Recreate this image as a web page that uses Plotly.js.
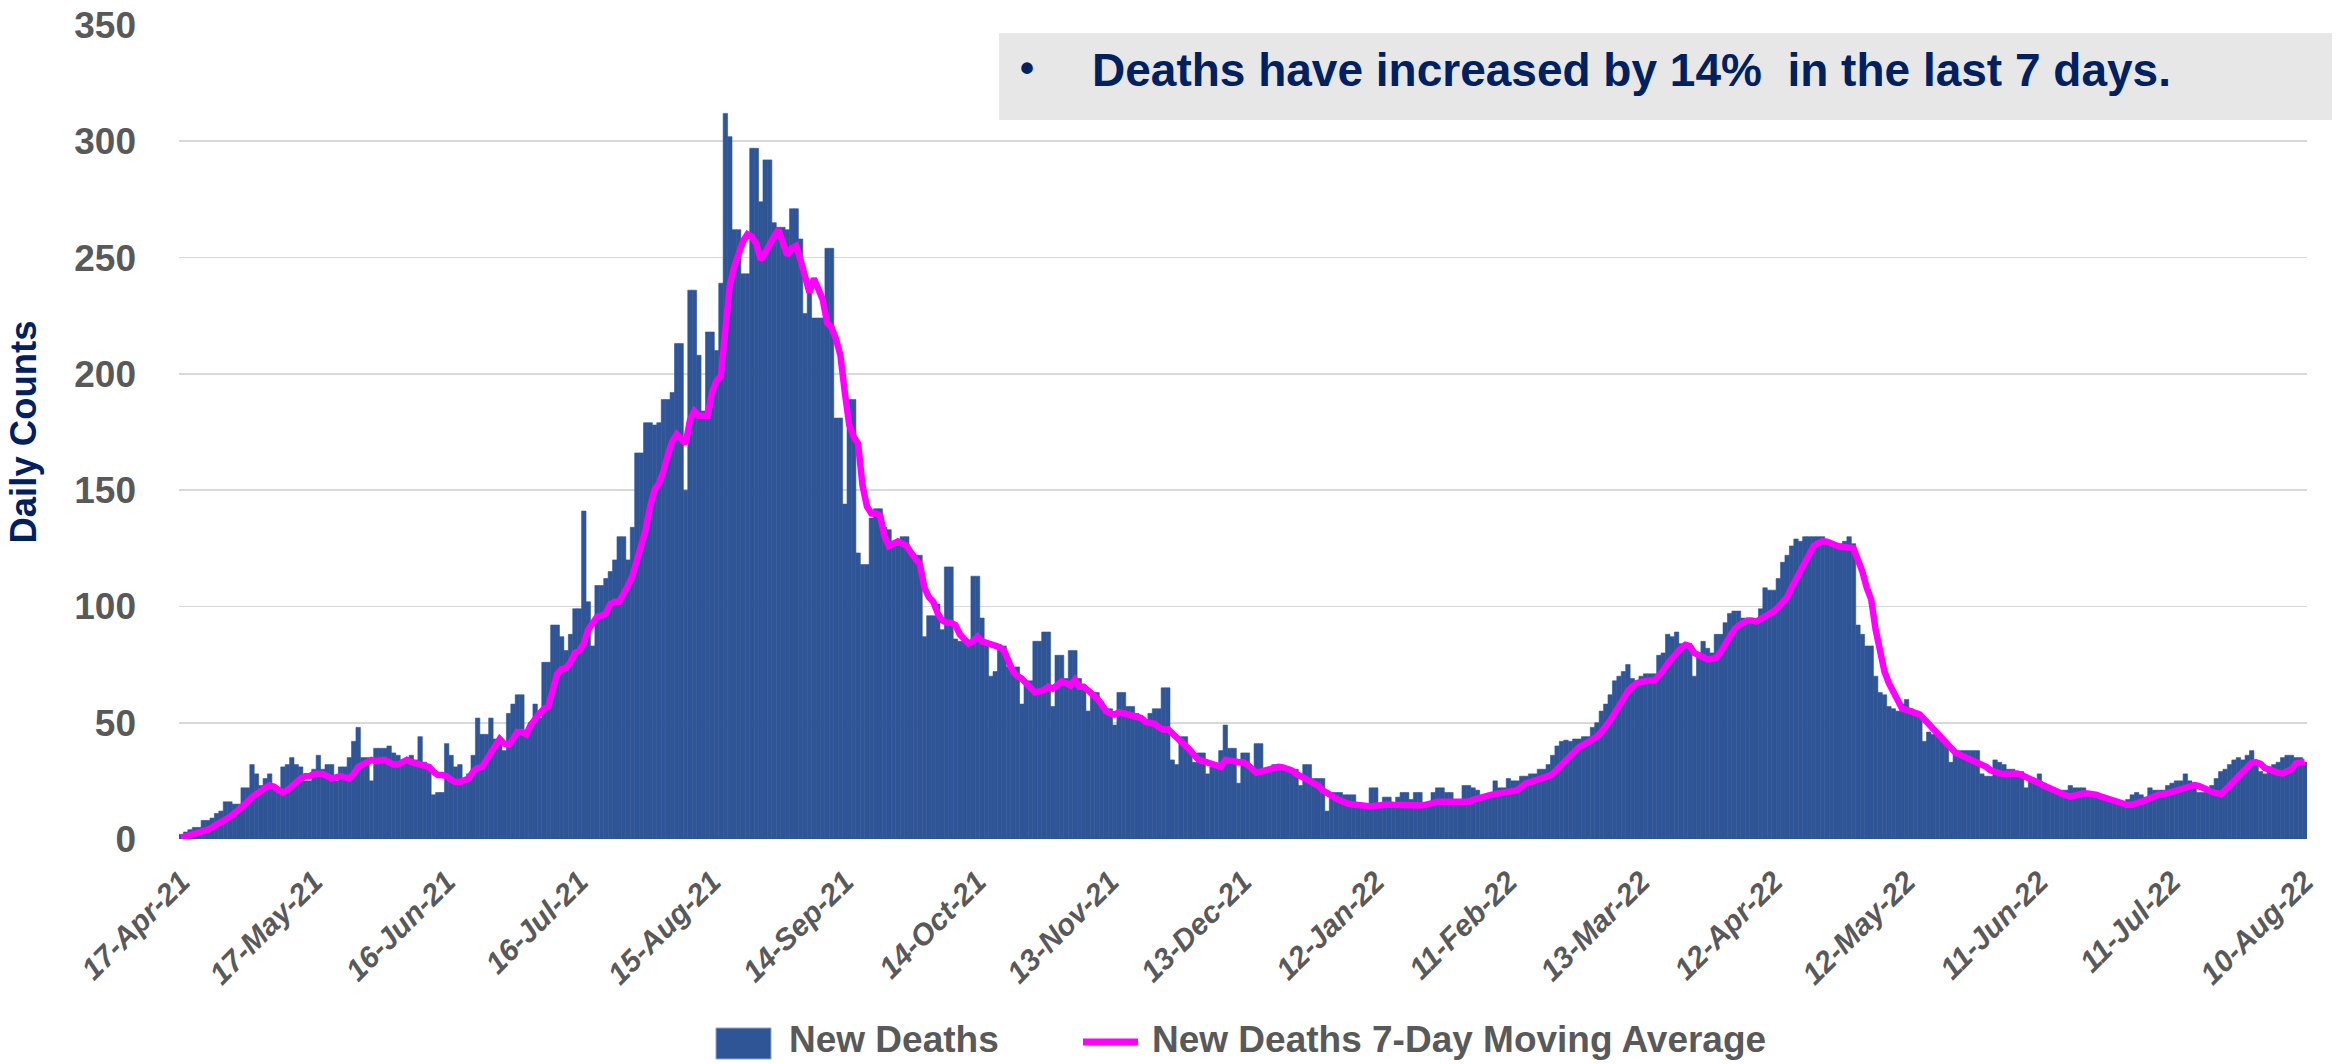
<!DOCTYPE html>
<html><head><meta charset="utf-8">
<script src="https://cdn.plot.ly/plotly-3.0.1.min.js"></script>
<style>html,body{margin:0;padding:0;background:#fff;}#chart{width:2339px;height:1064px;}</style>
</head><body><div id="chart"></div>
<script>
// ---- data (daily, starting 17-Apr-2021) ----
const startYear = 2021, startMonth = 3, startDay = 17; // 17-Apr-2021 (month 0-based)

const newDeaths = [
2,3,4,5,5,8,8,9,11,12,
16,16,15,15,22,22,32,28,23,26,
28,23,22,31,32,35,32,31,25,25,
30,36,30,32,32,25,31,31,35,42,
48,35,35,25,39,39,39,40,37,36,
34,34,36,34,44,33,32,19,20,20,
41,36,31,32,25,28,36,52,45,45,
52,43,43,38,54,58,62,62,46,50,
58,52,76,76,92,92,87,81,88,99,
99,141,102,83,109,109,112,115,120,130,
130,120,134,166,166,179,179,178,179,189,
189,192,213,213,150,236,236,208,184,218,
218,210,239,312,302,262,262,243,243,297,
297,274,292,292,265,263,263,262,271,271,
258,226,239,224,224,224,254,254,181,181,
144,189,189,123,118,118,138,142,142,134,
133,128,128,130,130,122,122,122,87,96,
96,101,90,117,117,86,85,85,83,113,
113,95,84,70,72,83,83,74,74,74,
58,68,68,85,85,89,89,57,79,79,
69,81,81,69,66,55,63,63,59,56,
56,49,63,63,57,57,54,51,51,54,
56,56,65,65,34,32,44,44,38,33,
37,37,28,31,31,38,49,39,39,24,
37,37,30,41,41,30,30,32,32,31,
31,30,30,23,32,32,26,26,26,12,
20,20,20,19,19,19,14,14,14,22,
22,14,18,18,14,18,20,20,17,20,
20,15,15,20,22,22,20,20,16,16,
23,23,22,21,18,18,18,25,22,22,
26,25,25,27,27,28,28,30,30,32,
36,40,42,42.5,42,43,43,44,44,48,
50,55,58,62,68,70,72,75,69,68,
70,71,71,71,79,80,88,87,89,84,
83,82,70,80,85,82,80,88,88,93,
97,98,98,95,94,94,94,99,108,107,
107,112,119,122,126,129,128,130,130,130,
130,130,128,127,127,127,128,130,127,92,
88,83,83,70,63,62,57,56,55,58,
60,56,55,54,42,46,45,45,42,42,
33,37,38,38,38,38,38,28,27,27,
34,33,32,30,30,29,29,22,25,25,
28,24,23,21,21,21,21,23,22,22,
22,20,20,18,17,17,17,16,16,16,
17,19,20,19,18,22,21,21,21,23,
24,25,25,28,25,23,20,20,21,23,
26,29,30,32,34,35,34,36,38,32,
29,28,31,32,33,35,36,36,35,35,
33
];

const movingAvg = [
0.5,1,1.5,2,2.5,3,4,5,6,7,
8,9.5,11,12.5,14,16,18,19.5,21,22,
23,22.5,21,20,21,23,25,26,27,27,
28,28,28,27,26,26.5,27,26.5,26,28,
31,32,33,34,33.5,34,34,33,32,32,
33,34,33,32.5,32.5,32,31,29,27.5,27.5,
27,25.5,24.5,24.5,25,26,29,30.5,31,34,
37,41,43,41,40.5,43,46,46,45,49,
52,54,56,57,64,71,73,73.5,76,80,
81,84,90,93,95.5,96,97,101,102,102,
105,109,113,120,127,133,143,150,153,158,
165,171,174,172,170,180,184,182,182,182,
192,197,199,222,238,246,252,257,260,259,
256,249,252,256,259,262,256,251,254,255,
249,243,235,241,237,232,222,220,215,208,
192,178,173,170,152,143,140,140,139,130,
126,127,128,127,126,123,120,118,108,104,
102,97,94,93,93,92,88,86,84,85,
87,85,84.5,84,83,82.5,81,76,72,70,
69,67,65,63,63.5,64,65.5,64.7,66,67.7,
67,66,68.5,65.5,65.5,64,62,60.5,58,55,
54,53.5,54.5,54,53.5,53.3,53,52,50.3,50,
49.5,48,47,47.2,45.5,43,41.5,40,38.3,36,
34,33.5,33,32.5,32,31,34,34,33.5,33,
33,32,30,28.5,29,29.5,30,31,31,30.8,
30.5,29.5,28,27,25.5,24.6,24,23,21,19.6,
19,17.5,16.5,15.5,15,14.8,14.5,14,14,14,
14.3,14.6,14.9,14.8,14.7,14.6,14.3,14,14,14.2,
14.4,14.6,15.2,16,16,16,16,16,16,16,
16,16,16.8,17.5,18,18.5,19,19.3,19.6,19.8,
20,20.2,21,22.5,24,24.5,25,25.3,26,27,
28,30,32,34,36,38,39.6,40.5,41.5,42.5,
44,46,48,51,54,57.5,61,63.5,65.5,67,
67.5,68,68.2,68.2,70,72.5,75.5,78,80.4,82,
83.5,83,80,79,78,77.2,77.5,78,80.5,84,
87.5,90,91.8,93,94,94,93.5,94.5,95.5,97,
98,99.7,102,104,108,111.5,115.5,119,123,126,
127.2,128,127.8,127,126,125.5,125.5,125.5,125,120,
115,108,103,90,81,72,67,63.5,59.5,56,
55.5,55,54.6,53.5,51.5,49.5,48,46,43.5,41,
39,37.2,36.3,35.5,34.5,33.6,33,32.2,31,29.5,
28.5,28.2,28,28,28,28.2,27.5,26.8,26,25,
24,23,22,21.2,20.4,19.6,18.8,18.2,18.6,19.2,
19.6,19.6,19.5,19,18.2,17.5,17,16.2,15.4,14.7,
14.6,14.8,15.2,15.8,16.6,17.5,18.6,19,19.2,19.5,
20,20.8,21.4,22,23,23.2,22.8,22.2,21.2,20.2,
19.6,19.3,21,23,25.5,27.5,29.5,31,32.8,33,
32.3,30.5,29.6,29,28.5,28.2,28.8,30,32.5,33,
33.2
];

const tickDates = ['2021-04-17','2021-05-17','2021-06-16','2021-07-16','2021-08-15','2021-09-14',
  '2021-10-14','2021-11-13','2021-12-13','2022-01-12','2022-02-11','2022-03-13','2022-04-12',
  '2022-05-12','2022-06-11','2022-07-11','2022-08-10'];
const tickLabels = ['17-Apr-21','17-May-21','16-Jun-21','16-Jul-21','15-Aug-21','14-Sep-21',
  '14-Oct-21','13-Nov-21','13-Dec-21','12-Jan-22','11-Feb-22','13-Mar-22','12-Apr-22',
  '12-May-22','11-Jun-22','11-Jul-22','10-Aug-22'];
const yTicks = [0,50,100,150,200,250,300,350];

const seriesNames = ['New Deaths','New Deaths 7-Day Moving Average'];
const noteText = 'Deaths have increased by 14%  in the last 7 days.';

// dates for each day of the series
const dates = newDeaths.map((_, i) => new Date(Date.UTC(startYear, startMonth, startDay + i)).toISOString().slice(0,10));

// ---- layout helpers (pixel -> paper) ----
const W = 2339, H = 1064;
const PL = 179, PR = 2307, PT = 25, PB = 839;
const px = x => (x - PL) / (PR - PL);
const py = y => (PB - y) / (PB - PT);

const BLUE = '#2F5597', MAG = '#FF00FF', GREY = '#595959', NAVY = '#002060';
const SANS = "'Liberation Sans', Arial, sans-serif";

const traces = [
  { type:'bar', x: dates, y: newDeaths, name: seriesNames[0],
    marker:{color:BLUE, line:{color:BLUE, width:0.6}}, showlegend:false, hoverinfo:'x+y' },
  { type:'scatter', mode:'lines', x: dates, y: movingAvg, name: seriesNames[1],
    line:{color:MAG, width:6.5}, showlegend:false, hoverinfo:'x+y' }
];

const layout = {
  width: W, height: H,
  margin: {l: PL, r: W - PR, t: PT, b: H - PB},
  paper_bgcolor:'#ffffff', plot_bgcolor:'#ffffff',
  bargap: 0,
  showlegend: false,
  xaxis: {
    type:'date', range:['2021-04-16 12:00','2022-08-10 12:00'],
    tickmode:'array', tickvals: tickDates, ticktext: tickLabels,
    tickangle: -45, ticks:'', showgrid:false, zeroline:false, showline:false,
    ticklabelstandoff: 18,
    tickfont:{family:SANS, size:30, color:GREY, weight:'bold', style:'italic'}
  },
  yaxis: {
    range:[0,350], tickmode:'array', tickvals: yTicks,
    showgrid:true, gridcolor:'#D9D9D9', gridwidth:1.6, zeroline:false, showline:false, ticks:'',
    ticklabelstandoff: 42,
    tickfont:{family:SANS, size:37, color:GREY, weight:'bold'},
    title:{text:'Daily Counts', font:{family:SANS, size:36.5, color:NAVY, weight:'bold'}, standoff: 26}
  },
  shapes: [
    {type:'rect', xref:'paper', yref:'paper', x0:px(999), x1:px(2332), y0:py(120), y1:py(33),
     fillcolor:'#E7E7E7', line:{width:0}, layer:'above'},
    {type:'rect', xref:'paper', yref:'paper', x0:px(716), x1:px(771), y0:py(1059), y1:py(1028),
     fillcolor:BLUE, line:{color:'#8FA6D0', width:1}},
    {type:'line', xref:'paper', yref:'paper', x0:px(1083), x1:px(1138), y0:py(1042), y1:py(1042),
     line:{color:MAG, width:7}}
  ],
  annotations: [
    {xref:'paper', yref:'paper', x:px(1018), y:py(68), xanchor:'left', yanchor:'middle', showarrow:false,
     text:'•', font:{family:SANS, size:40, color:NAVY, weight:'bold'}},
    {xref:'paper', yref:'paper', x:px(1090), y:py(70), xanchor:'left', yanchor:'middle', showarrow:false,
     text: noteText, font:{family:SANS, size:46, color:NAVY, weight:'bold'}},
    {xref:'paper', yref:'paper', x:px(787), y:py(1039), xanchor:'left', yanchor:'middle', showarrow:false,
     text: seriesNames[0], font:{family:SANS, size:37, color:GREY, weight:'bold'}},
    {xref:'paper', yref:'paper', x:px(1150), y:py(1039), xanchor:'left', yanchor:'middle', showarrow:false,
     text: seriesNames[1], font:{family:SANS, size:37, color:GREY, weight:'bold'}}
  ]
};

Plotly.newPlot('chart', traces, layout, {staticPlot:true, displayModeBar:false});
</script>
</body></html>
